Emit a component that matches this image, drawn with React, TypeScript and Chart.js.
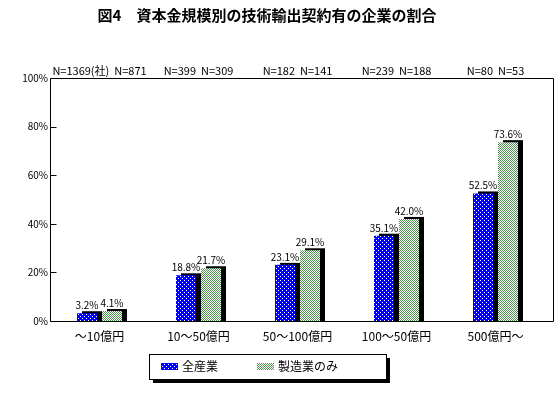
import React, { useEffect, useRef } from 'react';
import { Chart, registerables } from 'chart.js';

Chart.register(...registerables);

const TITLE = '図4　資本金規模別の技術輸出契約有の企業の割合';
const categories = ['～10億円', '10～50億円', '50～100億円', '100～50億円', '500億円～'];
const nLabels = ['N=1369(社)  N=871', 'N=399  N=309', 'N=182  N=141', 'N=239  N=188', 'N=80  N=53'];
const seriesNames = ['全産業', '製造業のみ'];
const allIndustry = [3.2, 18.8, 23.1, 35.1, 52.5];
const manufacturingOnly = [4.1, 21.7, 29.1, 42.0, 73.6];
const yTickValues = [0, 20, 40, 60, 80, 100];

const FONT = "'Noto Sans CJK JP', 'Noto Sans', sans-serif";

function makePattern(w: number, h: number, draw: (g: CanvasRenderingContext2D) => void): CanvasPattern | string {
  const c = document.createElement('canvas');
  c.width = w;
  c.height = h;
  const g = c.getContext('2d')!;
  draw(g);
  const ctx = document.createElement('canvas').getContext('2d')!;
  return ctx.createPattern(c, 'repeat') || '#000';
}

export default function App() {
  const ref = useRef<HTMLCanvasElement | null>(null);

  useEffect(() => {
    const canvas = ref.current!;
    const bluePattern = makePattern(4, 4, (g) => {
      g.fillStyle = '#0000ff';
      g.fillRect(0, 0, 4, 4);
      g.fillStyle = '#ffffff';
      g.fillRect(0, 0, 1, 1);
      g.fillRect(2, 2, 1, 1);
    });
    const greenPattern = makePattern(2, 2, (g) => {
      g.fillStyle = '#ffffff';
      g.fillRect(0, 0, 2, 2);
      g.fillStyle = '#4e944e';
      g.fillRect(0, 0, 1, 1);
      g.fillRect(1, 1, 1, 1);
    });
    const fills = [bluePattern, greenPattern];

    const shadowPlugin = {
      id: 'barShadow',
      beforeDatasetsDraw(chart: any) {
        const ctx = chart.ctx;
        ctx.save();
        ctx.fillStyle = '#000';
        chart.data.datasets.forEach((_: any, di: number) => {
          const meta = chart.getDatasetMeta(di);
          meta.data.forEach((el: any) => {
            const p = el.getProps(['x', 'y', 'base', 'width'], true);
            const l = p.x - p.width / 2 + 5;
            ctx.fillRect(l, p.y - 2, p.width, p.base - p.y + 2);
          });
        });
        ctx.restore();
      },
      afterDatasetsDraw(chart: any) {
        const ctx = chart.ctx;
        ctx.save();
        ctx.fillStyle = '#000';
        ctx.font = `10px ${FONT}`;
        ctx.textAlign = 'center';
        ctx.textBaseline = 'bottom';
        chart.data.datasets.forEach((ds: any, di: number) => {
          const meta = chart.getDatasetMeta(di);
          meta.data.forEach((el: any, i: number) => {
            const p = el.getProps(['x', 'y'], true);
            ctx.fillText(ds.data[i].toFixed(1) + '%', p.x, p.y - 3);
          });
        });
        ctx.restore();
      },
      afterDraw(chart: any) {
        const ctx = chart.ctx;
        const a = chart.chartArea;
        const frameRight = a.right + 8;
        ctx.save();
        ctx.strokeStyle = '#000';
        ctx.lineWidth = 1;
        const L = Math.round(a.left) + 0.5;
        const T = Math.round(a.top) + 0.5;
        const B = Math.round(a.bottom) + 0.5;
        const R = Math.round(frameRight) + 0.5;
        ctx.beginPath();
        ctx.moveTo(L, B);
        ctx.lineTo(L, T);
        ctx.lineTo(R, T);
        ctx.lineTo(R, B);
        ctx.lineTo(L, B);
        ctx.stroke();
        const y = chart.scales.y;
        ctx.beginPath();
        yTickValues.forEach((v) => {
          const py = Math.round(y.getPixelForValue(v)) + 0.5;
          ctx.moveTo(L, py);
          ctx.lineTo(L + 6, py);
        });
        ctx.stroke();

        ctx.fillStyle = '#000';
        ctx.font = `bold 15px ${FONT}`;
        ctx.textAlign = 'center';
        ctx.textBaseline = 'middle';
        ctx.fillText(TITLE, chart.width / 2 - 13, 15);

        const bx = 149, by = 354, bw = 237, bh = 25;
        ctx.fillStyle = '#000';
        ctx.fillRect(bx + 4, by + 4, bw, bh);
        ctx.fillStyle = '#fff';
        ctx.fillRect(bx, by, bw, bh);
        ctx.strokeRect(bx + 0.5, by + 0.5, bw, bh);
        const itemX = [161, 257];
        const cy = by + bh / 2;
        ctx.font = `12px ${FONT}`;
        ctx.textAlign = 'left';
        ctx.textBaseline = 'middle';
        seriesNames.forEach((name, i) => {
          ctx.fillStyle = fills[i] as any;
          ctx.fillRect(itemX[i], Math.round(cy - 3.5), 17, 7);
          ctx.fillStyle = '#000';
          ctx.fillText(name, itemX[i] + 21, cy);
        });
        ctx.restore();
      },
    };

    const chart = new Chart(canvas, {
      type: 'bar',
      data: {
        labels: categories,
        datasets: [
          {
            label: seriesNames[0],
            data: allIndustry,
            backgroundColor: bluePattern as any,
            categoryPercentage: 0.505,
            barPercentage: 0.8,
            xAxisID: 'x',
          },
          {
            label: seriesNames[1],
            data: manufacturingOnly,
            backgroundColor: greenPattern as any,
            categoryPercentage: 0.505,
            barPercentage: 0.8,
            xAxisID: 'x',
          },
        ],
      },
      options: {
        animation: false,
        responsive: false,
        devicePixelRatio: 1,
        layout: { padding: { top: 64, bottom: 50, left: 0, right: 15 } },
        plugins: {
          legend: { display: false },
          title: { display: false },
          tooltip: { enabled: false },
        },
        scales: {
          x: {
            type: 'category',
            position: 'bottom',
            grid: { display: false, drawTicks: false },
            border: { display: false },
            ticks: {
              color: '#000',
              font: { family: FONT, size: 12 },
              padding: 8,
              maxRotation: 0,
              autoSkip: false,
            },
            afterFit: (s: any) => {
              s.height = 25;
            },
          },
          xTop: {
            type: 'category',
            position: 'top',
            labels: nLabels,
            offset: true,
            grid: { display: false, drawTicks: false },
            border: { display: false },
            ticks: {
              color: '#000',
              font: { family: FONT, size: 11 },
              padding: 1,
              maxRotation: 0,
              autoSkip: false,
            },
            afterFit: (s: any) => {
              s.height = 14;
            },
          },
          y: {
            min: 0,
            max: 100,
            grid: { display: false, drawTicks: false },
            border: { display: false },
            afterBuildTicks: (s: any) => {
              s.ticks = yTickValues.map((v) => ({ value: v }));
            },
            ticks: {
              color: '#000',
              font: { family: FONT, size: 10 },
              padding: 2,
              callback: (v: any) => v + '%',
            },
            afterFit: (s: any) => {
              s.width = 50;
            },
          },
        },
      },
      plugins: [shadowPlugin],
    } as any);

    return () => chart.destroy();
  }, []);

  return (
    <div style={{ position: 'fixed', left: 0, top: 0, width: 560, height: 396, background: '#fff' }}>
      <canvas ref={ref} width={560} height={396} style={{ width: 560, height: 396, display: 'block' }} />
    </div>
  );
}
